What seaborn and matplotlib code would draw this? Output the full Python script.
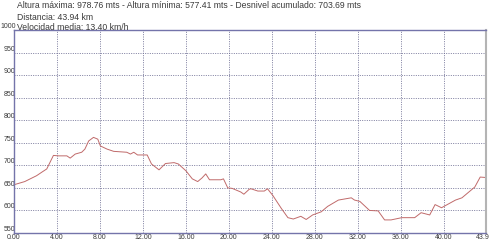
import matplotlib
matplotlib.use("Agg")
import matplotlib.pyplot as plt
import matplotlib.transforms as mtransforms
import seaborn as sns
import pandas as pd

distance_km = [0.0, 1.0, 2.1, 2.6, 3.05, 3.36, 3.67, 4.14, 4.92, 5.23, 5.7, 6.3, 6.6, 6.95,
               7.4, 7.8, 8.04, 8.66, 9.28, 10.5, 10.84, 11.15, 11.5, 12.4, 12.8, 13.5, 14.1,
               14.9, 15.3, 16.0, 16.6, 17.1, 17.5, 17.85, 18.2, 19.25, 19.5, 19.9, 20.3, 21.1,
               21.4, 21.9, 22.06, 22.7, 23.3, 23.6, 24.1, 24.9, 25.5, 26.0, 26.7, 27.2, 27.8,
               28.6, 29.2, 30.2, 31.4, 31.7, 32.2, 33.1, 33.9, 34.5, 35.1, 36.1, 37.3, 37.9,
               38.7, 39.2, 39.8, 41.1, 41.7, 42.9, 43.4, 43.94]
altitude_m = [657, 664, 677, 685, 692, 707, 722, 721, 721, 716, 725, 729, 736, 754,
              762, 758, 743, 736, 731, 729, 725, 729, 723, 723, 703, 690, 704,
              706, 703, 688, 670, 664, 672, 681, 668, 668, 670, 650, 649, 641,
              636, 647, 648, 643, 643, 648, 633, 604, 584, 581, 587, 580, 590,
              597, 609, 623, 628, 623, 620, 600, 599, 579, 579, 584, 584, 595,
              590, 613, 606, 623, 628, 652, 674, 673]

x_ticks = [0, 4, 8, 12, 16, 20, 24, 28, 32, 36, 40, 43.94]
x_tick_labels = ["0.00", "4.00", "8.00", "12.00", "16.00", "20.00", "24.00", "28.00",
                 "32.00", "36.00", "40.00", "43.9"]
y_ticks = [550, 600, 650, 700, 750, 800, 850, 900, 950, 1000]

header_lines = [
    "Altura máxima: 978.76 mts - Altura mínima: 577.41 mts - Desnivel acumulado: 703.69 mts",
    "Distancia: 43.94 km",
    "Velocidad media: 13.40 km/h",
]

sns.set_style("white")
plt.rcParams['font.family'] = ['Liberation Sans', 'DejaVu Sans']

df = pd.DataFrame({"km": distance_km, "alt": altitude_m})

fig = plt.figure(figsize=(4.9, 2.45), dpi=100)
ax = fig.add_axes([14/490, 12/245, (486-14)/490, (233-30)/245])
sns.lineplot(data=df, x="km", y="alt", ax=ax, color="#c06a6a", linewidth=0.7)

ax.set_xlim(0, 43.94)
ax.set_ylim(550, 1000)
ax.set_xticks(x_ticks)
ax.set_xticklabels(x_tick_labels)
ax.set_yticks(y_ticks)
ax.set_yticklabels([str(v) for v in y_ticks], va="bottom")
ax.tick_params(axis="both", length=0, labelsize=5.0, labelcolor="#3a3a3a")
ax.tick_params(axis="y", pad=-1.2)
ax.tick_params(axis="x", pad=1)
ax.set_xlabel("")
ax.set_ylabel("")

last = ax.get_xticklabels()[-1]
last.set_transform(last.get_transform() + mtransforms.ScaledTranslation(-3/100, 0, fig.dpi_scale_trans))

ax.grid(True, color="#6a6a90", linestyle=(0, (1.2, 1.6)), linewidth=0.6)
ax.set_axisbelow(True)

for side in ["left", "bottom", "top"]:
    ax.spines[side].set_color("#7474aa")
    ax.spines[side].set_linewidth(1.0)
ax.spines["right"].set_color("#b4b4b4")
ax.spines["right"].set_linewidth(1.5)

for i, line in enumerate(header_lines):
    fig.text(16.5/490, 1 - (6 + 11*i)/245, line, fontsize=6.2, color="#3a3a3a",
             ha="left", va="center")

fig.savefig("out.png", dpi=100, facecolor="white")
